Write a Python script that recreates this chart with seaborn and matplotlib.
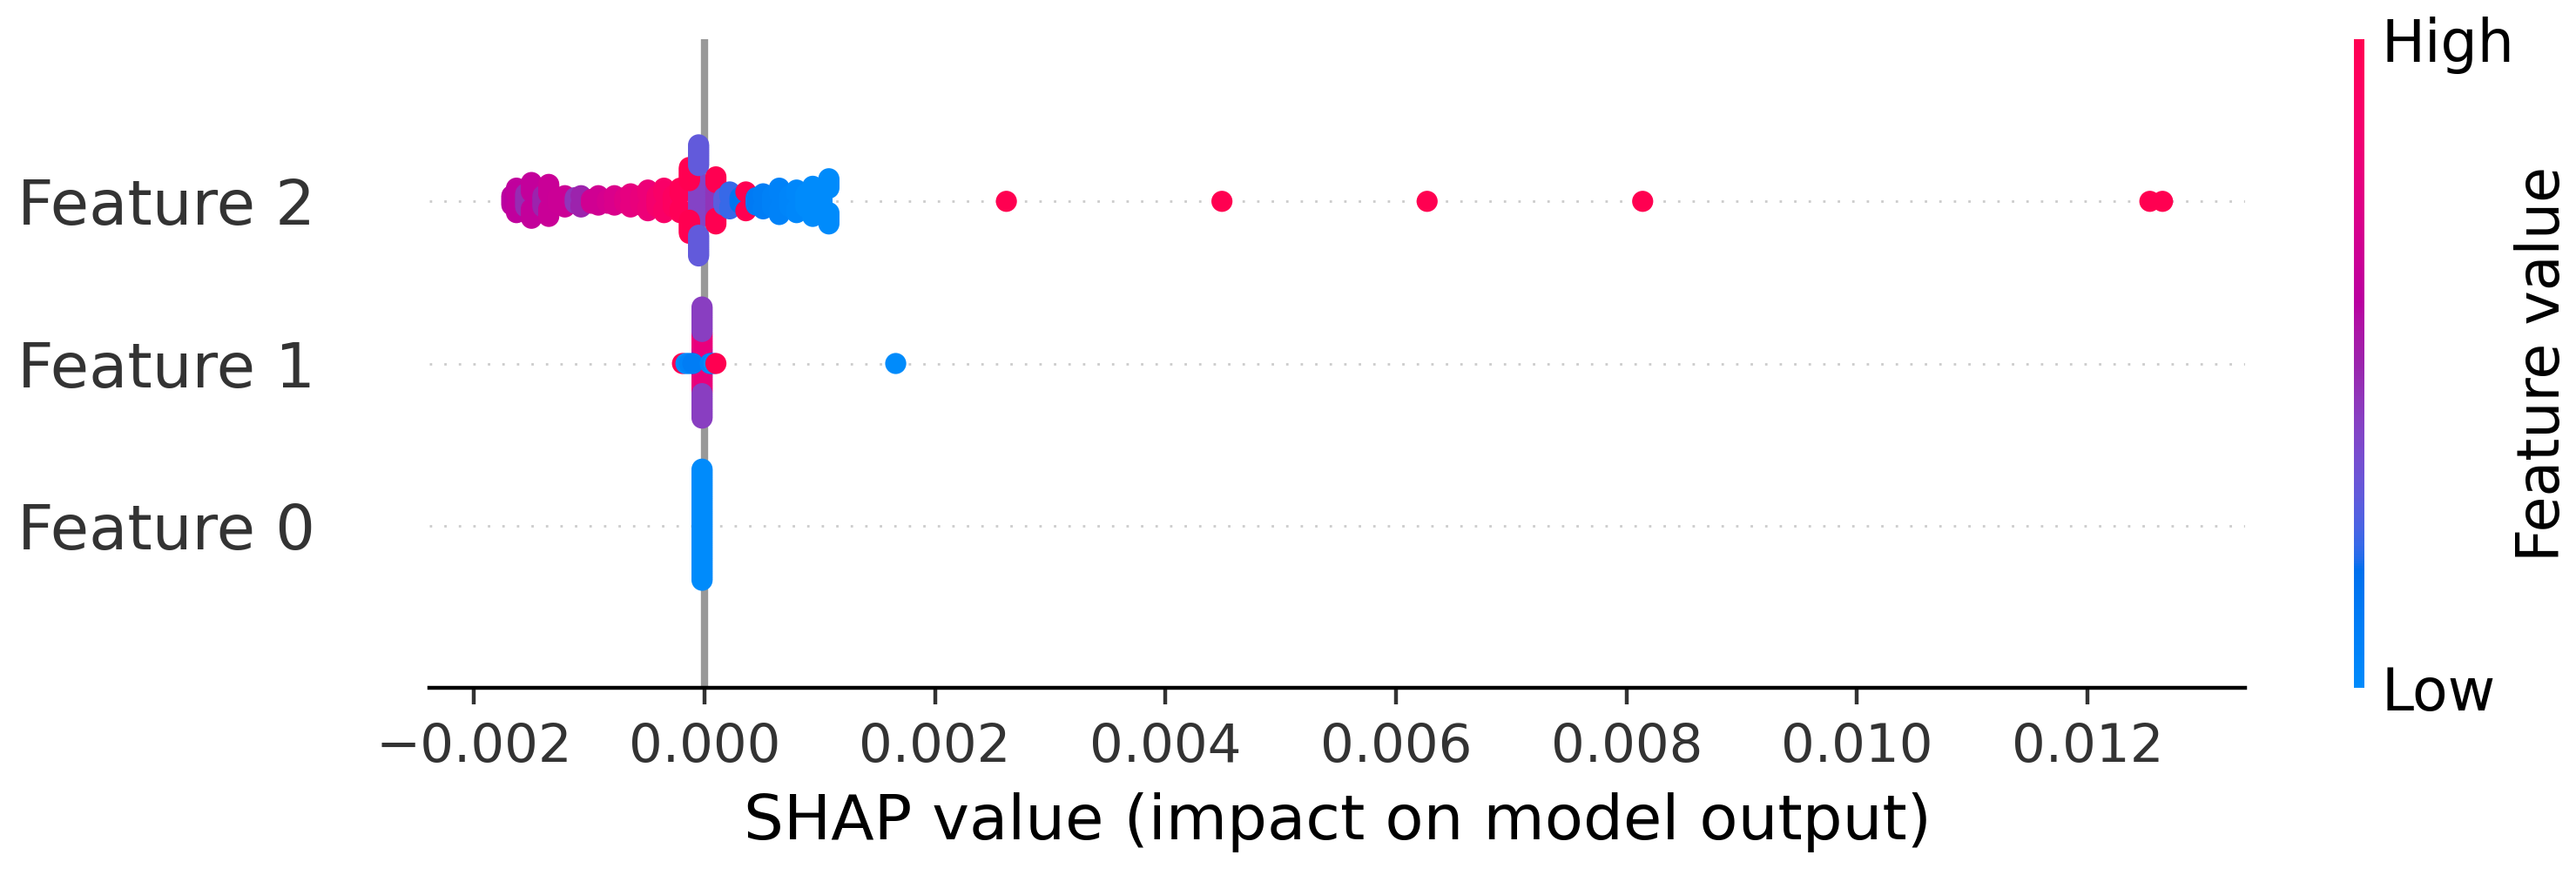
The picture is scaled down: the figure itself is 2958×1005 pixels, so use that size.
import numpy as np
import pandas as pd
import matplotlib.pyplot as plt
import seaborn as sns
from matplotlib.colors import LinearSegmentedColormap, Normalize
from matplotlib.cm import ScalarMappable

# Data: SHAP value, number of samples, scaled feature value
features = ['Feature 0', 'Feature 1', 'Feature 2']

f0_shap = [-0.00002]
f0_count = [60]
f0_value = [0.0]

f1_shap = [-0.00002, -0.00002, -0.00002, -0.00019, -0.00016, -0.00013, -0.00010,
           0.00005, 0.00008, 0.00010, 0.00166]
f1_count = [16, 16, 28, 1, 1, 1, 1, 1, 1, 1, 1]
f1_value = [0.62, 0.8, 0.42, 1.0, 0.0, 0.05, 0.1, 0.05, 0.0, 1.0, 0.0]

f2_shap = [-0.00167, -0.00163, -0.00155, -0.00150, -0.00140, -0.00135,
           -0.00127, -0.00121, -0.00112, -0.00107, -0.00098, -0.00092,
           -0.00084, -0.00078, -0.00069, -0.00064, -0.00055, -0.00049,
           -0.00041, -0.00035, -0.00027, -0.00021,
           -0.00005, -0.00013, -0.00005, 0.00010, 0.00010,
           0.00017, 0.00022, 0.00031, 0.00037, 0.00036, 0.00045, 0.00051,
           0.00059, 0.00065, 0.00074, 0.00080, 0.00088, 0.00094, 0.00102, 0.00108,
           0.00262, 0.00449, 0.00627, 0.00814, 0.01254, 0.01265]
f2_count = [6, 8, 8, 12, 7, 11,
            4, 3, 4, 3, 3, 3,
            3, 3, 4, 4, 6, 6,
            7, 7, 7, 7,
            20, 16, 24, 18, 8,
            5, 5, 4, 5, 2, 5, 4,
            7, 8, 7, 6, 8, 9, 12, 13,
            1, 1, 1, 1, 1, 1]
f2_value = [0.6, 0.62, 0.48, 0.63, 0.5, 0.65,
            0.66, 0.66, 0.45, 0.5, 0.68, 0.68,
            0.7, 0.72, 0.75, 0.78, 0.8, 0.82,
            0.87, 0.9, 0.93, 0.97,
            0.4, 1.0, 0.3, 0.45, 1.0,
            0.28, 0.22, 0.15, 0.15, 1.0, 0.12, 0.1,
            0.07, 0.06, 0.04, 0.03, 0.0, 0.0, 0.0, 0.0,
            1.0, 1.0, 1.0, 1.0, 1.0, 1.0]


# SHAP-style red/blue colormap built in LCH space
def lch_to_rgb(l, c, h):
    a, b = c * np.cos(h), c * np.sin(h)
    fy = (l + 16) / 116
    fx, fz = fy + a / 500, fy - b / 200
    finv = lambda f: f ** 3 if f > 0.2068966 else (f - 16 / 116) / 7.787
    xyz = np.array([finv(fx) * 0.95047, finv(fy), finv(fz) * 1.08883])
    m = np.array([[3.2406, -1.5372, -0.4986],
                  [-0.9689, 1.8758, 0.0415],
                  [0.0557, -0.2040, 1.0570]])
    rgb = m @ xyz
    rgb = np.where(rgb > 0.0031308, 1.055 * np.abs(rgb) ** (1 / 2.4) - 0.055, 12.92 * rgb)
    return np.clip(rgb, 0, 1)


nsteps = 100
l_vals = list(np.linspace(54, 40, nsteps // 2)) + list(np.linspace(40, 54, nsteps // 2))
c_vals = np.linspace(70, 90, nsteps)
h_vals = np.linspace(4.6588, 0.35470565 + 2 * np.pi, nsteps)
cmap = LinearSegmentedColormap.from_list(
    'red_blue', [(p, lch_to_rgb(l, c, h)) for p, l, c, h in
                 zip(np.linspace(0, 1, nsteps), l_vals, c_vals, h_vals)])


# Beeswarm stacking: quantise into bins, stack alternately up/down
def swarm_offsets(vals, row_height=0.4, nbins=100):
    vals = np.asarray(vals, float)
    quant = np.round(nbins * (vals - vals.min()) / (vals.max() - vals.min() + 1e-8))
    ys = np.zeros(len(vals))
    layer, last = 0, None
    for i in np.argsort(quant, kind='stable'):
        if quant[i] != last:
            layer = 0
        ys[i] = np.ceil(layer / 2) * ((layer % 2) * 2 - 1)
        layer += 1
        last = quant[i]
    return ys * 0.9 * (row_height / np.max(ys + 1))


frames = []
for pos, (s, n, v) in enumerate([(f0_shap, f0_count, f0_value),
                                 (f1_shap, f1_count, f1_value),
                                 (f2_shap, f2_count, f2_value)]):
    shap = np.repeat(s, n)
    frames.append(pd.DataFrame({'shap': shap,
                                'row': pos + swarm_offsets(shap),
                                'value': np.repeat(v, n)}))
df = pd.concat(frames, ignore_index=True)

# Figure
dpi = 400
fig = plt.figure(figsize=(2958 / dpi, 1005 / dpi), dpi=dpi)
ax = fig.add_axes([493 / 2958, 1 - 790 / 1005, (2578 - 493) / 2958, (790 - 45) / 1005])

ax.axvline(x=0, color='#999999', zorder=-1)
for pos in range(len(features)):
    ax.axhline(y=pos, color='#cccccc', lw=0.5, dashes=(1, 5), zorder=-1)

sns.scatterplot(data=df, x='shap', y='row', hue='value', palette=cmap, hue_norm=(0, 1),
                s=19, linewidth=0, alpha=1, legend=False, zorder=3, ax=ax)

ax.set_ylim(-1, len(features))
ax.set_yticks(range(len(features)))
ax.set_yticklabels(features, fontsize=13)
ax.set_xlabel('SHAP value (impact on model output)', fontsize=13)
ax.set_ylabel('')

ax.xaxis.set_ticks_position('bottom')
ax.yaxis.set_ticks_position('none')
for side in ['right', 'top', 'left']:
    ax.spines[side].set_visible(False)
ax.tick_params(color='#333333', labelcolor='#333333')
ax.tick_params('y', length=20, width=0.5, which='major')
ax.tick_params('x', labelsize=11)

# Colour bar
cax = fig.add_axes([2703 / 2958, 1 - 790 / 1005, 12 / 2958, (790 - 45) / 1005])
m = ScalarMappable(norm=Normalize(0, 1), cmap=cmap)
m.set_array([0, 1])
cb = fig.colorbar(m, cax=cax, ticks=[0, 1])
cb.set_ticklabels(['Low', 'High'])
cb.set_label('Feature value', size=12, labelpad=0)
cb.ax.tick_params(labelsize=12, length=0)
cb.outline.set_visible(False)

plt.savefig('out.png', dpi=dpi)
